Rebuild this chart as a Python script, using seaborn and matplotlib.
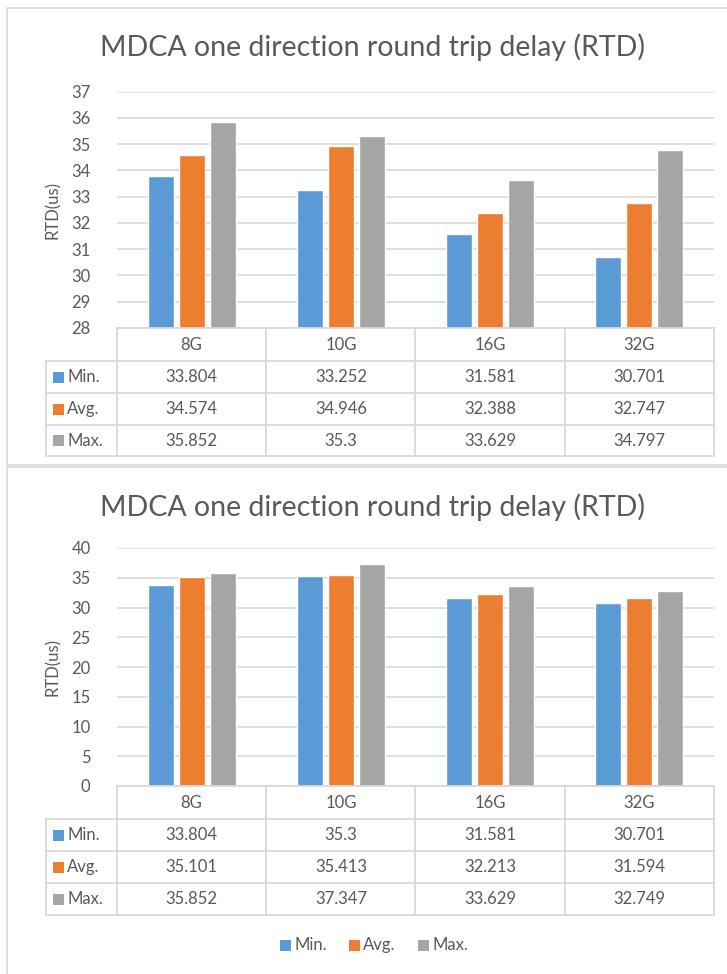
import matplotlib
matplotlib.use("Agg")
import matplotlib.pyplot as plt
import matplotlib.transforms as mtransforms
from matplotlib.patches import Rectangle
import seaborn as sns
import pandas as pd

categories = ["8G", "10G", "16G", "32G"]
series_names = ["Min.", "Avg.", "Max."]

top_min = [33.804, 33.252, 31.581, 30.701]
top_avg = [34.574, 34.946, 32.388, 32.747]
top_max = [35.852, 35.3, 33.629, 34.797]
top_labels = [["33.804", "33.252", "31.581", "30.701"],
              ["34.574", "34.946", "32.388", "32.747"],
              ["35.852", "35.3", "33.629", "34.797"]]

bot_min = [33.804, 35.3, 31.581, 30.701]
bot_avg = [35.101, 35.413, 32.213, 31.594]
bot_max = [35.852, 37.347, 33.629, 32.749]
bot_labels = [["33.804", "35.3", "31.581", "30.701"],
              ["35.101", "35.413", "32.213", "31.594"],
              ["35.852", "37.347", "33.629", "32.749"]]

title = "MDCA one direction round trip delay (RTD)"
ylabel = "RTD(us)"

colors = ["#5B9BD5", "#ED7D31", "#A5A5A5"]
txt = "#595959"
grid = "#D9D9D9"
FS = 12

sns.set_theme(style="white")
plt.rcParams["font.family"] = ["Lato", "DejaVu Sans"]

W, H = 727, 974
fig = plt.figure(figsize=(W / 100, H / 100), dpi=100)

def fx(px):
    return px / W

def fy(py):
    return 1 - py / H

# panel borders
for (x0, y0, x1, y1) in [(7, 8, 740, 465), (7, 467, 740, 990)]:
    fig.patches.append(Rectangle((fx(x0), fy(y1)), fx(x1) - fx(x0), fy(y0) - fy(y1),
                                 transform=fig.transFigure, fill=False,
                                 edgecolor="#D9D9D9", linewidth=1.2))

def make_df(mn, av, mx):
    rows = []
    for s, vals in zip(series_names, [mn, av, mx]):
        for c, v in zip(categories, vals):
            rows.append({"cat": c, "series": s, "value": v})
    return pd.DataFrame(rows)

def draw_chart(top_px, bottom_px, ylim, ticks, mn, av, mx, labels, title_y, row_px):
    left_px, right_px = 117, 714
    ax = fig.add_axes([fx(left_px), fy(bottom_px), fx(right_px) - fx(left_px),
                       fy(top_px) - fy(bottom_px)])
    df = make_df(mn, av, mx)
    sns.barplot(data=df, x="cat", y="value", hue="series", hue_order=series_names,
                order=categories, palette=colors, width=0.623, gap=0.16,
                ax=ax, legend=False, saturation=1)
    ax.set_xlim(-0.5, 3.5)
    ax.set_ylim(*ylim)
    ax.set_yticks(ticks)
    ax.set_yticklabels([str(t) for t in ticks], color=txt, fontsize=FS)
    ax.tick_params(axis="y", length=0, pad=19)
    ax.set_xticks([])
    ax.set_xlabel("")
    ax.set_ylabel("")
    for sp in ax.spines.values():
        sp.set_visible(False)
    ax.grid(axis="y", color=grid, linewidth=1.2)
    ax.set_axisbelow(True)
    fig.text(fx(373), fy(title_y), title, ha="center", va="center",
             color=txt, fontsize=20.5)
    fig.text(fx(53), fy((top_px + bottom_px) / 2), ylabel, rotation=90,
             ha="center", va="center", color=txt, fontsize=FS)

    # data table
    tr = mtransforms.blended_transform_factory(ax.transData, fig.transFigure)
    ys = [fy(p) for p in row_px]
    unit = (right_px - left_px) / 4
    x_left_tab = -0.5 - (117 - 46) / unit
    lkw = dict(color="#D9D9D9", linewidth=1.3, transform=tr, clip_on=False)
    ax.plot([-0.5, 3.5], [ys[0], ys[0]], **lkw)
    for yy in ys[1:]:
        ax.plot([x_left_tab, 3.5], [yy, yy], **lkw)
    for xv in [-0.5, 0.5, 1.5, 2.5, 3.5]:
        ax.plot([xv, xv], [ys[0], ys[-1]], **lkw)
    ax.plot([x_left_tab, x_left_tab], [ys[1], ys[-1]], **lkw)
    for i, c in enumerate(categories):
        ax.text(i, (ys[0] + ys[1]) / 2, c, transform=tr, ha="center", va="center",
                color=txt, fontsize=FS)
    sq = 11 / unit
    for r in range(3):
        yc = (ys[r + 1] + ys[r + 2]) / 2
        for i in range(4):
            ax.text(i, yc, labels[r][i], transform=tr, ha="center", va="center",
                    color=txt, fontsize=FS)
        xs = x_left_tab + 7 / unit
        ax.add_patch(Rectangle((xs, yc - (fy(0) - fy(5.5))), sq, fy(0) - fy(11),
                               transform=tr, facecolor=colors[r], edgecolor="none",
                               clip_on=False))
        ax.text(xs + sq + 3 / unit, yc, series_names[r], transform=tr, ha="left",
                va="center", color=txt, fontsize=FS)
    return ax

draw_chart(91.7, 328, (28, 37), list(range(28, 38)), top_min, top_avg, top_max,
           top_labels, 47, [328, 361, 393, 425, 456])
draw_chart(548, 786, (0, 40), list(range(0, 41, 5)), bot_min, bot_avg, bot_max,
           bot_labels, 507, [786, 819, 851, 883, 915])

# legend
lx = [280, 349, 418]
for x0, name, col in zip(lx, series_names, colors):
    fig.patches.append(Rectangle((fx(x0), fy(951)), fx(11), fy(0) - fy(11),
                                 transform=fig.transFigure, facecolor=col,
                                 edgecolor="none"))
    fig.text(fx(x0 + 14), fy(945), name, ha="left", va="center", color=txt,
             fontsize=FS)

fig.savefig("out.png", dpi=100, facecolor="white")
